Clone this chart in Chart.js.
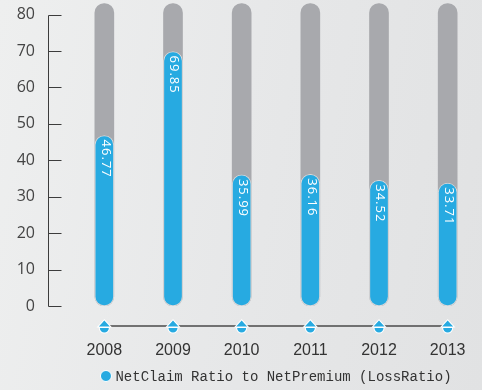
<!DOCTYPE html>
<html lang="en">
	<head>
		<meta charset="UTF-8" />
		<meta name="viewport" content="width=device-width, initial-scale=1.0" />
		<title>Loss Ratio</title>
		<style>
			html,
			body {
				margin: 0;
				padding: 0;
			}
			body {
				width: 482px;
				height: 390px;
				background: linear-gradient(100deg, #eeefef 0%, #e6e7e8 55%, #e1e2e3 100%);
			}
			#chartContainer {
				position: relative;
				width: 482px;
				height: 390px;
			}
		</style>
	</head>
	<body>
		<div id="chartContainer">
			<canvas id="myChart"></canvas>
		</div>
	</body>
	<script src="https://cdn.jsdelivr.net/npm/chart.js"></script>

	<script>
		const years = ['2008', '2009', '2010', '2011', '2012', '2013'];
		const lossRatio = [46.77, 69.85, 35.99, 36.16, 34.52, 33.71];
		const trackTop = [83, 83, 83, 83, 83, 83];
		const legendText = 'NetClaim Ratio to NetPremium (LossRatio)';

		const BLUE = '#27aae1';
		const GREY = '#a8a9ad';

		// little blue drop with a white rim, used on the year line
		function drawDrop(ctx, cx, cy) {
			ctx.save();
			ctx.beginPath();
			ctx.moveTo(cx, cy - 5.5);
			ctx.lineTo(cx + 5.5, cy + 0.5);
			ctx.lineTo(cx - 5.5, cy + 0.5);
			ctx.closePath();
			ctx.moveTo(cx + 4.5, cy + 2);
			ctx.arc(cx, cy + 2, 4.5, 0, Math.PI);
			ctx.closePath();
			ctx.lineWidth = 2;
			ctx.strokeStyle = '#ffffff';
			ctx.stroke();
			ctx.fillStyle = BLUE;
			ctx.fill();
			ctx.restore();
		}

		const decor = {
			id: 'decor',
			afterDatasetsDraw(chart) {
				// rotated values inside the blue bars
				const ctx = chart.ctx;
				const meta = chart.getDatasetMeta(0);
				ctx.save();
				ctx.fillStyle = '#ffffff';
				ctx.font = '13px "Open Sans"';
				ctx.letterSpacing = '1px';
				ctx.textAlign = 'left';
				ctx.textBaseline = 'middle';
				meta.data.forEach(function (bar, i) {
					ctx.save();
					ctx.translate(bar.x + 1, bar.y + 4);
					ctx.rotate(Math.PI / 2);
					ctx.fillText(lossRatio[i].toFixed(2), 0, 0);
					ctx.restore();
				});
				ctx.restore();
			},
			afterDraw(chart) {
				const ctx = chart.ctx;
				const xs = chart.scales.x;
				const ys = chart.scales.y;
				const area = chart.chartArea;

				// vertical axis with ticks pointing into the plot
				const axisX = Math.round(area.left - 22) + 0.5;
				ctx.save();
				ctx.strokeStyle = '#3c3c3c';
				ctx.lineWidth = 1;
				ctx.beginPath();
				ctx.moveTo(axisX, Math.round(ys.getPixelForValue(80)) + 0.5);
				ctx.lineTo(axisX, Math.round(ys.getPixelForValue(0)) + 0.5);
				ys.ticks.forEach(function (t) {
					const py = Math.round(ys.getPixelForValue(t.value)) + 0.5;
					ctx.moveTo(axisX, py);
					ctx.lineTo(axisX + 13, py);
				});
				ctx.stroke();

				// year line with drops
				const lineY = Math.round(ys.getPixelForValue(0)) + 20;
				ctx.strokeStyle = '#4a4a4a';
				ctx.lineWidth = 1.5;
				ctx.beginPath();
				ctx.moveTo(xs.getPixelForValue(0), lineY);
				ctx.lineTo(xs.getPixelForValue(years.length - 1), lineY);
				ctx.stroke();
				years.forEach(function (y, i) {
					drawDrop(ctx, xs.getPixelForValue(i), lineY);
				});

				// legend
				ctx.font = '14px "Liberation Mono"';
				const tw = ctx.measureText(legendText).width;
				const total = 11 + 4 + tw;
				const startX = (area.left + area.right) / 2 - total / 2;
				const ly = 376;
				ctx.beginPath();
				ctx.arc(startX + 5.5, ly, 5.5, 0, Math.PI * 2);
				ctx.fillStyle = BLUE;
				ctx.fill();
				ctx.lineWidth = 1;
				ctx.strokeStyle = '#ffffff';
				ctx.stroke();
				ctx.fillStyle = '#333333';
				ctx.textAlign = 'left';
				ctx.textBaseline = 'middle';
				ctx.fillText(legendText, startX + 15, ly + 1);
				ctx.restore();
			},
		};

		const config = {
			type: 'bar',
			data: {
				labels: years,
				datasets: [
					{
						label: legendText,
						data: lossRatio,
						backgroundColor: BLUE,
						borderColor: 'rgba(255, 255, 255, 0.55)',
						borderWidth: 1,
						borderRadius: 10,
						borderSkipped: false,
						barThickness: 19,
						grouped: false,
					},
					{
						label: 'track',
						data: trackTop,
						backgroundColor: GREY,
						borderWidth: 0,
						borderRadius: 10,
						borderSkipped: false,
						barThickness: 19,
						grouped: false,
					},
				],
			},
			options: {
				responsive: true,
				maintainAspectRatio: false,
				animation: false,
				layout: { padding: { top: 0, right: 0, bottom: 0, left: 0 } },
				plugins: {
					legend: { display: false },
					tooltip: { enabled: false },
				},
				scales: {
					x: {
						grid: { display: false, drawTicks: false },
						border: { display: false },
						ticks: {
							color: '#333333',
							font: { family: 'Liberation Sans', size: 16 },
							padding: 35,
						},
						afterFit(scale) {
							scale.height = 84;
							scale.paddingLeft = 0;
							scale.paddingRight = 0;
						},
					},
					y: {
						min: 0,
						max: 84,
						grid: { display: false, drawTicks: false },
						border: { display: false },
						ticks: {
							stepSize: 10,
							includeBounds: false,
							color: '#444444',
							font: { family: 'Open Sans', size: 16 },
							padding: 35,
						},
						afterFit(scale) {
							scale.width = 70;
							scale.paddingTop = 0;
							scale.paddingBottom = 0;
						},
					},
				},
			},
			plugins: [decor],
		};

		new Chart(document.getElementById('myChart'), config);
	</script>
</html>
